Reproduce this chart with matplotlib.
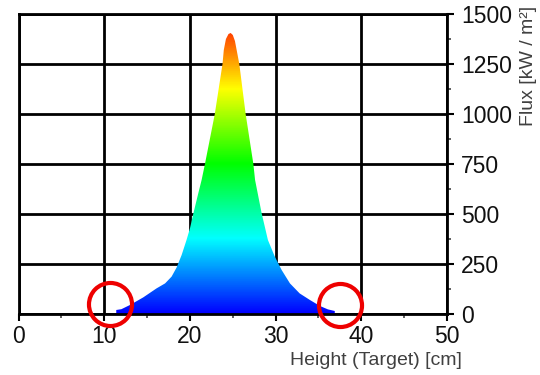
import numpy as np
import matplotlib
matplotlib.use("Agg")
import matplotlib.pyplot as plt
from matplotlib.colors import LinearSegmentedColormap
from matplotlib.ticker import MultipleLocator

plt.rcParams['font.family'] = ['Liberation Sans', 'DejaVu Sans']

# flux profile
height_cm = [11.4, 11.4, 12.0, 13.0, 14.55, 16.1, 17.1, 17.86, 18.45, 19.03, 19.6,
             20.0, 20.4, 20.97, 21.36, 21.75, 22.9, 23.8, 23.95, 24.2, 24.5, 24.75,
             25.0, 25.25, 25.45, 25.76, 26.5, 27.4, 27.6, 28.37, 29.1, 29.9, 30.7,
             31.67, 32.8, 34.0, 35.17, 36.1, 36.9, 36.9]
flux_kw = [0, 20, 24, 45, 83, 128, 153, 187, 233, 295, 370,
           428, 503, 603, 670, 750, 1000, 1250, 1320, 1375, 1400, 1405,
           1395, 1365, 1320, 1250, 1000, 750, 670, 503, 370, 287, 220,
           153, 103, 70, 40, 23, 15, 0]

x_ticks = [0, 10, 20, 30, 40, 50]
y_ticks = [0, 250, 500, 750, 1000, 1250, 1500]

# red highlight circles
circle_x = [10.7, 37.5]
circle_y = [50, 45]

fig = plt.figure(figsize=(5.4, 3.75), dpi=100)
ax = fig.add_axes([0.0344, 0.1627, 0.7934, 0.80])

ax.set_xlim(0, 50)
ax.set_ylim(0, 1500)
ax.set_axisbelow(True)
ax.grid(True, color='black', linewidth=2.0)

# rainbow fill coloured by flux level
cmap = LinearSegmentedColormap.from_list(
    'rb', ['#0000ff', '#00ffff', '#00ff00', '#ffff00', '#ff0000'])
grad = np.linspace(0, 1500, 400).reshape(-1, 1)
img = ax.imshow(grad, extent=[0, 50, 0, 1500], origin='lower', aspect='auto',
                cmap=cmap, vmin=0, vmax=1500, zorder=2)
poly = ax.fill(height_cm, flux_kw, facecolor='none', edgecolor='none', zorder=2)[0]
img.set_clip_path(poly)

ax.plot(circle_x, circle_y, 'o', markersize=31, markerfacecolor='none',
        markeredgecolor='#ee0000', markeredgewidth=3, clip_on=False, zorder=5)

for s in ax.spines.values():
    s.set_linewidth(2.0)
    s.set_color('black')
    s.set_zorder(3)

ax.yaxis.tick_right()
ax.set_xticks(x_ticks)
ax.set_yticks(y_ticks)
ax.xaxis.set_minor_locator(MultipleLocator(5))
ax.yaxis.set_minor_locator(MultipleLocator(125))
ax.tick_params(which='major', length=5, width=1.5, labelsize=16.5, pad=3,
               colors='black', labelcolor='#111111')
ax.tick_params(which='minor', length=3, width=1.2, colors='#444444')
ax.tick_params(axis='y', which='both', right=True, left=False, pad=5)

fig.text(0.855, 0.015, 'Height (Target) [cm]', ha='right', va='bottom',
         fontsize=14, color='#404040')
fig.text(0.978, 0.985, 'Flux [kW / m²]', ha='center', va='top', rotation=90,
         fontsize=14, color='#404040')

fig.savefig('out.png', dpi=100)
